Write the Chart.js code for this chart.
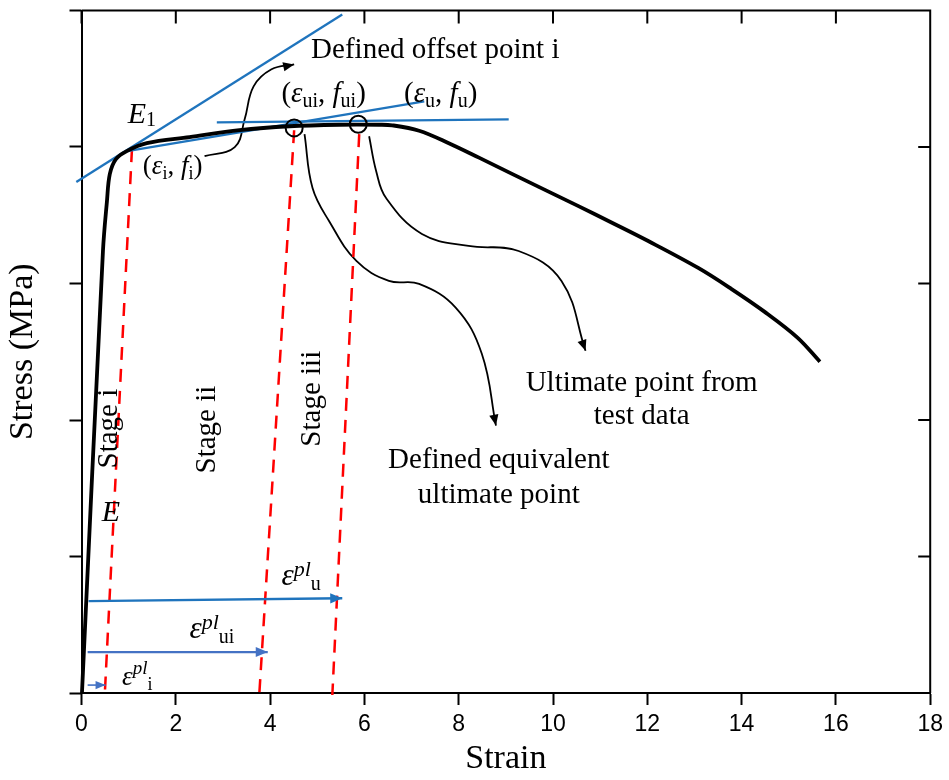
<!DOCTYPE html>
<html>
<head>
<meta charset="utf-8">
<script src="https://cdn.jsdelivr.net/npm/chart.js@4.4.1/dist/chart.umd.min.js"></script>
<style>
  html, body { margin: 0; background: #fff; }
</style>
</head>
<body>
<canvas id="chart" width="949" height="780"></canvas>
<script>
// === Stress-strain curve (stress shown on a 0-500 scale, no tick labels) ===
const strain = [0.01, 0.455, 0.54, 0.60, 0.73, 0.96, 1.385, 2.29, 3.35, 4.41, 5.47, 6.31, 6.59, 7.16,
  7.79, 8.43, 9.12, 9.84, 10.54, 11.24, 12.02, 13.08, 13.78, 14.49, 15.19, 15.66];
const stress = [0, 323.8, 360.4, 380.1, 391.1, 397.0, 402.8, 407.2, 412.3, 415.2, 416.3, 416.3, 415.9, 411.9,
  402.8, 392.2, 380.5, 368.4, 356.7, 344.7, 331.1, 311.4, 296.1, 279.2, 260.2, 242.7];

// === Construction lines ===
const tangentX = [-0.11, 5.53], tangentY = [374.3, 497.1];   // E1 tangent
const secantX = [0.97, 7.27], secantY = [397, 433.5];       // i -> u secant
const plateauX = [2.87, 9.06], plateauY = [418.1, 420.3];   // horizontal at peak

// red offset lines (top, bottom)
const offsetX = [[1.07, 0.49], [4.51, 3.77], [5.89, 5.32]];
const offsetY = [[398.4, -3.7], [412.3, -1.5], [409.4, -1.5]];

// plastic strain arrows: u, ui, i
const plX = [[0.15, 5.53], [0.13, 3.95], [0.13, 0.51]];
const plY = [[67.3, 69.4], [30, 30], [5.8, 5.8]];

// marked points (ui, u)
const markX = [4.51, 5.87], markY = [414, 416.7];

// curved pointers
const ptrOffsetX = [2.61, 3.25, 3.46, 3.65, 4.03, 4.51];
const ptrOffsetY = [393.3, 399.9, 420.3, 444.4, 456.9, 460.5];
const ptrEquivX = [4.73, 4.90, 5.25, 5.83, 6.52, 7.16, 7.94, 8.49, 8.79];
const ptrEquivY = [409.4, 369.9, 345.8, 316.5, 301.9, 299.7, 282.2, 248.5, 195.9];
const ptrTestX = [6.10, 6.25, 6.46, 7.22, 8.21, 9.27, 10.18, 10.69];
const ptrTestY = [407.9, 382.3, 362.6, 336.3, 327.5, 323.8, 301.9, 250.7];

const BLUE = "#1f74bd";
const BLUE2 = "#4472c4";
const RED = "#ff0000";
const SERIF = "'Liberation Serif', 'Times New Roman', serif";
const SANS = "'Liberation Sans', Arial, sans-serif";

const pts = (xs, ys) => xs.map((x, i) => ({ x: x, y: ys[i] }));

function line(xs, ys, color, width, extra) {
  return Object.assign({
    data: pts(xs, ys), showLine: true, borderColor: color, borderWidth: width,
    pointRadius: 0, tension: 0, clip: false
  }, extra || {});
}

const datasets = [
  line(strain, stress, "#000", 3.8, { tension: 0.35 }),
  {
    data: pts(markX, markY), showLine: false, pointRadius: 8.5, pointBorderWidth: 2,
    pointBorderColor: "#000", pointBackgroundColor: "rgba(0,0,0,0)"
  },
  line(tangentX, tangentY, BLUE, 2.3),
  line(secantX, secantY, BLUE, 2.3),
  line(plateauX, plateauY, BLUE, 2.3),
  line(plX[0], plY[0], BLUE, 2.3, { arrow: 12 }),
  line(plX[1], plY[1], BLUE2, 2.3, { arrow: 12 }),
  line(plX[2], plY[2], BLUE2, 1.6, { arrow: 10 }),
  ...offsetX.map((xs, i) => line(xs, offsetY[i], RED, 2.5, { borderDash: [13, 9] })),
  line(ptrOffsetX, ptrOffsetY, "#000", 1.8, { tension: 0.4, arrow: 11 }),
  line(ptrEquivX, ptrEquivY, "#000", 1.8, { tension: 0.4, arrow: 11 }),
  line(ptrTestX, ptrTestY, "#000", 1.8, { tension: 0.4, arrow: 11 })
];

// === Text annotations, anchored in data coordinates ===
// parts: [text, size, italic, dy]
const richLabels = [
  { x: 4.87, y: 464.9, parts: [["Defined offset point i", 29]] },
  { x: 4.24, y: 432.7, parts: [["(", 29], ["ε", 29, true], ["ui", 20, false, 5], [", ", 29], ["f", 29, true], ["ui", 20, false, 5], [")", 29]] },
  { x: 6.84, y: 432.7, parts: [["(", 29], ["ε", 29, true], ["u", 20, false, 5], [", ", 29], ["f", 29, true], ["u", 20, false, 5], [")", 29]] },
  { x: 0.98, y: 417.4, parts: [["E", 30, true], ["1", 20, false, 3]] },
  { x: 1.30, y: 380.1, parts: [["(", 27], ["ε", 27, true], ["i", 18, false, 5], [", ", 27], ["f", 27, true], ["i", 18, false, 5], [")", 27]] },
  { x: 0.43, y: 125.7, parts: [["E", 30, true]] },
  { x: 4.24, y: 78.9, parts: [["ε", 31, true], ["pl", 22, true, -9], ["u", 20, false, 5]] },
  { x: 2.29, y: 40.2, parts: [["ε", 31, true], ["pl", 22, true, -9], ["ui", 20, false, 5]] },
  { x: 0.86, y: 5.8, parts: [["ε", 27, true], ["pl", 19, true, -11], ["i", 18, false, 5]] },
  { x: 11.88, y: 221.5, align: "center", parts: [["Ultimate point from", 29]] },
  { x: 11.88, y: 197.4, align: "center", parts: [["test data", 29]] },
  { x: 8.85, y: 164.5, align: "center", parts: [["Defined equivalent", 29]] },
  { x: 8.85, y: 138.9, align: "center", parts: [["ultimate point", 29]] }
];
const stageLabels = [
  { x: 0.60, y: 193.7, text: "Stage i" },
  { x: 2.67, y: 193.0, text: "Stage ii" },
  { x: 4.90, y: 215.6, text: "Stage iii" }
];

const fontOf = (size, italic) => (italic ? "italic " : "") + size + "px " + SERIF;

function drawRich(ctx, x, y, parts, align) {
  let w = 0;
  parts.forEach(p => { ctx.font = fontOf(p[1], p[2]); w += ctx.measureText(p[0]).width; });
  let cx = align === "center" ? x - w / 2 : x;
  parts.forEach(p => {
    ctx.font = fontOf(p[1], p[2]);
    ctx.fillText(p[0], cx, y + (p[3] || 0));
    cx += ctx.measureText(p[0]).width;
  });
}

// frame on top/right with inward ticks
const framePlugin = {
  id: "frame",
  afterDraw(chart) {
    const { ctx, chartArea: a, scales: { x, y } } = chart;
    ctx.save();
    ctx.strokeStyle = "#000";
    ctx.lineWidth = 2;
    ctx.beginPath();
    ctx.moveTo(a.left, a.top);
    ctx.lineTo(a.right, a.top);
    ctx.lineTo(a.right, a.bottom);
    x.ticks.forEach(t => {
      const px = x.getPixelForValue(t.value);
      ctx.moveTo(px, a.top);
      ctx.lineTo(px, a.top + 13);
    });
    y.ticks.forEach(t => {
      const py = y.getPixelForValue(t.value);
      ctx.moveTo(a.right, py);
      ctx.lineTo(a.right - 12, py);
    });
    ctx.stroke();
    ctx.restore();
  }
};

// arrowheads at the end of flagged datasets
const arrowPlugin = {
  id: "arrows",
  afterDatasetsDraw(chart) {
    const ctx = chart.ctx;
    chart.data.datasets.forEach((ds, i) => {
      if (!ds.arrow) return;
      const el = chart.getDatasetMeta(i).data;
      const tip = el[el.length - 1];
      let from = el[el.length - 2];
      if (ds.tension && tip.cp1x !== undefined && (tip.cp1x !== tip.x || tip.cp1y !== tip.y)) {
        from = { x: tip.cp1x, y: tip.cp1y };
      }
      const ang = Math.atan2(tip.y - from.y, tip.x - from.x);
      const L = ds.arrow, W = ds.arrow * 0.42;
      ctx.save();
      ctx.fillStyle = ds.borderColor;
      ctx.translate(tip.x, tip.y);
      ctx.rotate(ang);
      ctx.beginPath();
      ctx.moveTo(0, 0);
      ctx.lineTo(-L, -W);
      ctx.lineTo(-L, W);
      ctx.closePath();
      ctx.fill();
      ctx.restore();
    });
  }
};

const textPlugin = {
  id: "texts",
  afterDatasetsDraw(chart) {
    const { ctx, scales: { x, y } } = chart;
    ctx.save();
    ctx.fillStyle = "#000";
    ctx.textBaseline = "alphabetic";
    ctx.textAlign = "left";
    richLabels.forEach(l => drawRich(ctx, x.getPixelForValue(l.x), y.getPixelForValue(l.y), l.parts, l.align));
    ctx.font = fontOf(29);
    ctx.textAlign = "center";
    ctx.textBaseline = "middle";
    stageLabels.forEach(s => {
      ctx.save();
      ctx.translate(x.getPixelForValue(s.x), y.getPixelForValue(s.y));
      ctx.rotate(-Math.PI / 2);
      ctx.fillText(s.text, 0, 0);
      ctx.restore();
    });
    ctx.restore();
  }
};

new Chart(document.getElementById("chart"), {
  type: "scatter",
  data: { datasets: datasets },
  plugins: [framePlugin, arrowPlugin, textPlugin],
  options: {
    responsive: false,
    animation: false,
    layout: { padding: { top: 9, right: 16, left: 0, bottom: 0 } },
    plugins: { legend: { display: false }, tooltip: { enabled: false } },
    scales: {
      x: {
        type: "linear", min: 0, max: 18,
        ticks: { stepSize: 2, padding: 6, color: "#000", font: { family: SANS, size: 23 } },
        grid: { drawOnChartArea: false, tickLength: 12, tickColor: "#000", tickWidth: 2 },
        border: { color: "#000", width: 2 },
        title: { display: true, text: "Strain", color: "#000", padding: { top: 0, bottom: 1 },
          font: { family: SERIF, size: 34 } },
        afterFit: s => { s.height = 87; }
      },
      y: {
        min: 0, max: 500,
        ticks: { stepSize: 100, callback: () => "" },
        grid: { drawOnChartArea: false, tickLength: 12, tickColor: "#000", tickWidth: 2 },
        border: { color: "#000", width: 2 },
        title: { display: true, text: "Stress (MPa)", color: "#000", padding: { top: 3, bottom: 0 },
          font: { family: SERIF, size: 34 } },
        afterFit: s => { s.width = 81.5; }
      }
    }
  }
});
</script>
</body>
</html>
